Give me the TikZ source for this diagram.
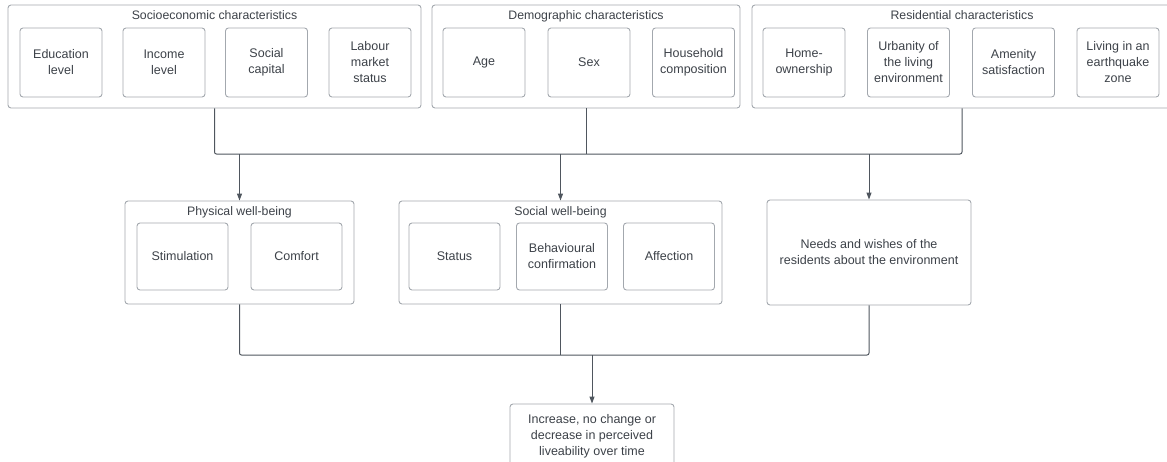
\documentclass[tikz,border=0pt]{standalone}
\usepackage{fontspec}
\setmainfont{Liberation Sans}
\usetikzlibrary{arrows.meta}
\definecolor{boxgray}{HTML}{A3A8AE}
\definecolor{linegray}{HTML}{4F565E}
\definecolor{textgray}{HTML}{3C4148}
\tikzset{
  group/.style={draw=boxgray, line width=0.9pt, rounded corners=3pt, inner sep=0pt},
  item/.style={draw=boxgray, line width=0.9pt, rounded corners=3pt, align=center, inner sep=0pt, text=textgray, font=\fontsize{12.5}{16}\selectfont},
  topitem/.style={item, minimum width=82, minimum height=69},
  miditem/.style={item, minimum width=91, minimum height=67},
  heading/.style={text=textgray, font=\fontsize{12.3}{15}\selectfont, inner sep=0pt, anchor=base},
  link/.style={draw=linegray, line width=1pt, rounded corners=2pt},
  arrow/.style={link, -{Triangle[width=5pt,length=7pt]}}
}
\begin{document}
\begin{tikzpicture}[x=1pt, y=-1pt]
\useasboundingbox (0, 0) rectangle (1167, 461);
\node [group, minimum width=413, minimum height=103] (socio) at (214.5, 56.5) {};
\node [heading] (sociot) at (214.5, 19) {Socioeconomic characteristics};
\node [topitem] (edu) at (61, 62.5) {Education\\level};
\node [topitem] (inc) at (164, 62.5) {Income\\level};
\node [topitem] (cap) at (266.5, 62.5) {Social\\capital};
\node [topitem] (lab) at (370, 62.5) {Labour\\market\\status};
\node [group, minimum width=308, minimum height=103] (demo) at (586, 56.5) {};
\node [heading] (demot) at (586, 19) {Demographic characteristics};
\node [topitem] (age) at (484, 62.5) {Age};
\node [topitem] (sex) at (589, 62.5) {Sex};
\node [topitem] (house) at (693.5, 62.5) {Household\\composition};
\node [group, minimum width=420, minimum height=103] (resid) at (962, 56.5) {};
\node [heading] (residt) at (962, 19) {Residential characteristics};
\node [topitem] (home) at (804, 62.5) {Home-\\ownership};
\node [topitem] (urban) at (908.5, 62.5) {Urbanity of\\the living\\environment};
\node [topitem] (amen) at (1013.5, 62.5) {Amenity\\satisfaction};
\node [topitem] (quake) at (1118, 62.5) {Living in an\\earthquake\\zone};
\node [group, minimum width=229, minimum height=103] (phys) at (239.5, 252.5) {};
\node [heading] (physt) at (239.5, 215) {Physical well-being};
\node [miditem] (stim) at (182.5, 256.5) {Stimulation};
\node [miditem] (comf) at (296.5, 256.5) {Comfort};
\node [group, minimum width=323, minimum height=103] (soc) at (560.5, 252.5) {};
\node [heading] (soct) at (560.5, 215) {Social well-being};
\node [miditem] (stat) at (454.5, 256.5) {Status};
\node [miditem] (behav) at (562, 256.5) {Behavioural\\confirmation};
\node [miditem] (affec) at (669, 256.5) {Affection};
\node [item, minimum width=204, minimum height=105] (needs) at (869, 252.5) {Needs and wishes of the\\residents about the environment};
\node [item, minimum width=164, minimum height=64] (live) at (592, 436) {Increase, no change or\\decrease in perceived\\liveability over time};
\coordinate (bus) at (586, 154);
\coordinate (join) at (592, 355);
\draw [link] (socio.south) |- (bus) -- (resid.south |- bus) -- (resid.south);
\draw [link] (demo.south) -- (bus);
\draw [arrow] (phys.north |- bus) -- (phys.north);
\draw [arrow] (soc.north |- bus) -- (soc.north);
\draw [arrow] (needs.north |- bus) -- (needs.north);
\draw [link] (phys.south) |- (join) -- (needs.south |- join) -- (needs.south);
\draw [link] (soc.south) -- (soc.south |- join);
\draw [arrow] (join) -- (live.north);
\end{tikzpicture}
\end{document}
